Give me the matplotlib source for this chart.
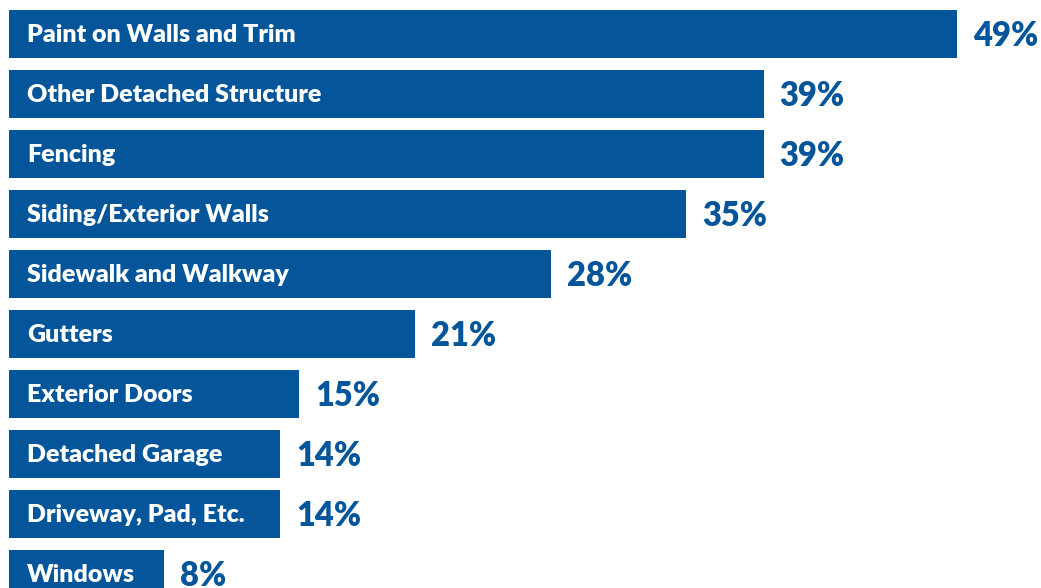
import matplotlib
matplotlib.use("Agg")
import matplotlib.pyplot as plt

categorias = ["Paint on Walls and Trim", "Other Detached Structure", "Fencing",
              "Siding/Exterior Walls", "Sidewalk and Walkway", "Gutters",
              "Exterior Doors", "Detached Garage", "Driveway, Pad, Etc.", "Windows"]
percentuais = [49, 39, 39, 35, 28, 21, 15, 14, 14, 8]

azul = "#04559A"
plt.rcParams["font.family"] = ["Lato", "DejaVu Sans"]

fig = plt.figure(figsize=(10.41, 5.88), dpi=100)
ax = fig.add_axes([0, 0, 1, 1])

posicoes = list(range(len(categorias)))
ax.barh(posicoes, percentuais, height=0.8, color=azul, left=0)

for pos, nome, valor in zip(posicoes, categorias, percentuais):
    # rotulo dentro da barra
    ax.annotate(nome, xy=(0, pos), xytext=(13, -1), textcoords="offset points",
                ha="left", va="center", color="white", fontsize=18, fontweight="heavy")
    # valor ao lado da barra
    ax.annotate(f"{valor}%", xy=(valor, pos), xytext=(11.5, -1.5), textcoords="offset points",
                ha="left", va="center", color=azul, fontsize=23.5, fontweight="heavy")

ax.set_xlim(-0.465, 53.33)
ax.set_ylim(9.233, -0.567)
ax.axis("off")

fig.savefig("out.png", dpi=100, facecolor="white")
